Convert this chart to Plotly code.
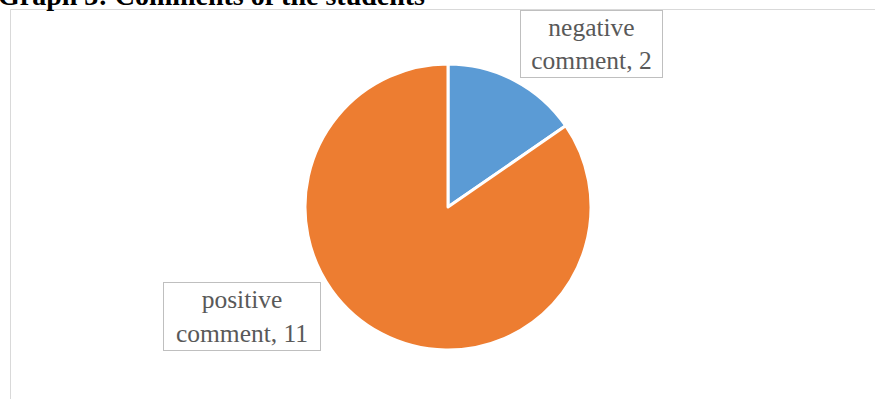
import plotly.graph_objects as go

W, H = 875, 399

categories = ["negative comment", "positive comment"]
values = [2, 11]
colors = ["#5B9BD5", "#ED7D31"]
title_text = "Graph 3: Comments of the students"

def px_x(x):
    return x / W

def px_y(y):
    return 1 - y / H

fig = go.Figure()
fig.add_trace(go.Pie(
    labels=categories,
    values=values,
    sort=False,
    direction="clockwise",
    rotation=0,
    marker=dict(colors=colors, line=dict(color="white", width=3)),
    textinfo="none",
    hoverinfo="label+value",
    showlegend=False,
    domain=dict(x=[px_x(305), px_x(591)], y=[px_y(350), px_y(64)]),
))

# chart frame
fig.add_shape(type="rect", xref="paper", yref="paper",
              x0=px_x(10.5), x1=px_x(880), y0=px_y(420), y1=px_y(9.5),
              line=dict(color="#D9D9D9", width=1), fillcolor="rgba(0,0,0,0)", layer="below")

label_font = dict(family="Liberation Serif, Times New Roman, serif", size=25.5, color="#595959")

boxes = [
    (f"negative<br>comment, {values[0]}", 591.5, 44, 141, 66),
    (f"positive<br>comment, {values[1]}", 242, 316.5, 156, 67),
]
for text, cx, cy, w, h in boxes:
    fig.add_annotation(
        text=text, xref="paper", yref="paper",
        x=px_x(cx), y=px_y(cy), xanchor="center", yanchor="middle",
        showarrow=False, font=label_font, align="center",
        width=w, height=h, borderpad=0,
        bordercolor="#BFBFBF", borderwidth=1, bgcolor="white",
    )

fig.add_annotation(
    text=f"<b>{title_text}</b>", xref="paper", yref="paper",
    x=px_x(-4), y=px_y(13), xanchor="left", yanchor="bottom",
    showarrow=False, font=dict(family="Liberation Serif, Times New Roman, serif", size=28, color="black"),
)

fig.update_layout(
    width=W, height=H,
    margin=dict(l=0, r=0, t=0, b=0),
    paper_bgcolor="white", plot_bgcolor="white",
)

fig.write_html("out.html", config={"displayModeBar": False},
               post_script="document.body.style.margin='0';document.body.style.overflow='hidden';")
